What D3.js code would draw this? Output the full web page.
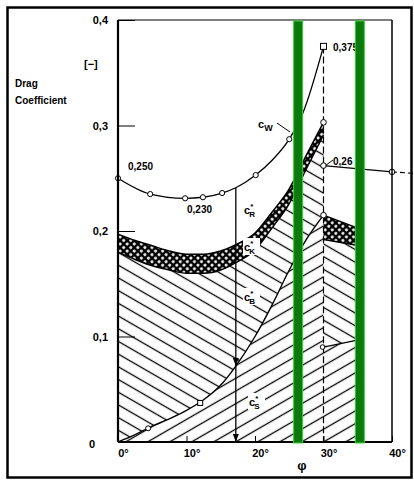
<!DOCTYPE html>
<html>
<head>
<meta charset="utf-8">
<script src="https://cdn.jsdelivr.net/npm/d3@7"></script>
<style>
  body { margin: 0; background: #fff; }
  svg { display: block; }
  text { font-family: "Liberation Sans", Arial, sans-serif; font-weight: bold; fill: #000; }
</style>
</head>
<body>
<div id="rootDiv"></div>
<script>
const width = 414
const height = 480

// left part of the chart, 0..30 deg
const phiL = [0, 2.5, 5, 7.5, 10, 12.5, 15, 17.2, 20, 22.5, 25, 27.5, 30]
const sStar = [0, 0.007, 0.015, 0.022, 0.030, 0.040, 0.054, 0.072, 0.100, 0.130, 0.163, 0.192, 0.215]
const kBot = [0.180, 0.173, 0.167, 0.163, 0.160, 0.160, 0.163, 0.170, 0.182, 0.203, 0.226, 0.259, 0.291]
const kTop = [0.197, 0.191, 0.186, 0.181, 0.178, 0.178, 0.181, 0.187, 0.198, 0.218, 0.240, 0.272, 0.303]

// total drag c_W
const phiW = [0, 4.7, 9.8, 12.4, 15.2, 17.2, 20.1, 22.5, 25, 27, 30]
const cW = [0.250, 0.235, 0.231, 0.232, 0.236, 0.241, 0.253, 0.267, 0.287, 0.312, 0.375]
const cWMarked = [0, 1, 2, 3, 4, 6, 8]

// right part, after the jump at 30 deg
const phiR = [30, 35.3]
const sR = [0.090, 0.097]
const kBotR = [0.192, 0.186]
const kTopR = [0.215, 0.202]
const phiW2 = [30, 40]
const cW2 = [0.262, 0.256]

// measured points on the 30 deg line
const jumpPts = [0.303, 0.262, 0.215]
const sMarkPhi = [4.4, 12]
const sMarkVal = [0.013, 0.037]

const yTicks = [0, 0.1, 0.2, 0.3, 0.4]
const xTicks = [0, 10, 20, 30, 40]
const greenBars = [26.3, 35.3]

const svg = d3.select("#rootDiv").append("svg")
    .attr("width", width)
    .attr("height", height)

const x = d3.scaleLinear().domain([0, 40]).range([118, 392])
const y = d3.scaleLinear().domain([0, 0.4]).range([442, 20])

const defs = svg.append("defs")

function hatch(id, angle, gap) {
    const p = defs.append("pattern")
        .attr("id", id)
        .attr("patternUnits", "userSpaceOnUse")
        .attr("width", 10)
        .attr("height", gap)
        .attr("patternTransform", `rotate(${angle})`)
    p.append("rect").attr("width", 10).attr("height", gap).attr("fill", "#fff")
    p.append("line")
        .attr("x1", 0).attr("x2", 10)
        .attr("y1", gap / 2).attr("y2", gap / 2)
        .attr("stroke", "#000")
        .attr("stroke-width", 1.3)
}
hatch("back", 30, 11)   // "\" for c_B*
hatch("fwd", -30, 11)   // "/" for c_S*

const cp = defs.append("pattern")
    .attr("id", "cross")
    .attr("patternUnits", "userSpaceOnUse")
    .attr("width", 5)
    .attr("height", 5)
    .attr("patternTransform", "rotate(45)")
cp.append("rect").attr("width", 5).attr("height", 5).attr("fill", "#000")
cp.append("circle").attr("cx", 2.5).attr("cy", 2.5).attr("r", 1.5).attr("fill", "#fff")

function band(phis, lo, hi) {
    return d3.area()
        .x((d, i) => x(phis[i]))
        .y0((d, i) => y(lo ? lo[i] : 0))
        .y1((d, i) => y(hi[i]))
        .curve(d3.curveMonotoneX)(phis)
}
function curveLine(phis, vals, curve) {
    return d3.line()
        .x((d, i) => x(phis[i]))
        .y((d, i) => y(vals[i]))
        .curve(curve || d3.curveMonotoneX)(phis)
}

const g = svg.append("g")

// hatched regions
g.append("path").attr("d", band(phiL, null, sStar)).attr("fill", "url(#fwd)")
g.append("path").attr("d", band(phiL, sStar, kBot)).attr("fill", "url(#back)")
g.append("path").attr("d", band(phiL, kBot, kTop)).attr("fill", "url(#cross)")
g.append("path").attr("d", band(phiR, null, sR)).attr("fill", "url(#fwd)")
g.append("path").attr("d", band(phiR, sR, kBotR)).attr("fill", "url(#back)")
g.append("path").attr("d", band(phiR, kBotR, kTopR)).attr("fill", "url(#cross)")

// axes
const yAxis = g.append("g")
    .attr("transform", `translate(${x(0)},0)`)
    .call(d3.axisLeft(y)
        .tickValues(yTicks)
        .tickSizeInner(-17)
        .tickSizeOuter(0)
        .tickPadding(10)
        .tickFormat(d => d === 0 ? "0" : d3.format(".1f")(d).replace(".", ",")))
yAxis.select(".domain").remove()
yAxis.selectAll("line").attr("stroke", "#000").attr("stroke-width", 1)
yAxis.selectAll("text").style("font-size", "11px").style("font-family", null)
yAxis.selectAll("text").filter(d => d === 0).attr("x", -23).attr("dy", "0.5em")

const xAxis = g.append("g")
    .attr("transform", `translate(0,${y(0)})`)
    .call(d3.axisBottom(x)
        .tickValues(xTicks)
        .tickSizeInner(-6)
        .tickSizeOuter(0)
        .tickPadding(7)
        .tickFormat(d => d + "°"))
xAxis.select(".domain").remove()
xAxis.selectAll("line").attr("stroke", "#000")
xAxis.selectAll("text").attr("dx", 5).style("font-size", "11px").style("font-family", null)

// boundary lines
const lines = g.append("g").attr("fill", "none").attr("stroke", "#000")
lines.append("path").attr("d", curveLine(phiL, sStar)).attr("stroke-width", 1.4)
lines.append("path").attr("d", curveLine(phiL, kBot)).attr("stroke-width", 1.5)
lines.append("path").attr("d", curveLine(phiL, kTop)).attr("stroke-width", 1.5)
lines.append("path").attr("d", curveLine(phiW, cW)).attr("stroke-width", 1.3)
lines.append("path").attr("d", curveLine(phiR, sR, d3.curveLinear)).attr("stroke-width", 1.2)
lines.append("path").attr("d", curveLine(phiR, kBotR, d3.curveLinear)).attr("stroke-width", 1.4)
lines.append("path").attr("d", curveLine(phiR, kTopR, d3.curveLinear)).attr("stroke-width", 1.4)
lines.append("path").attr("d", curveLine(phiW2, cW2, d3.curveLinear)).attr("stroke-width", 1.2)
lines.append("line")
    .attr("x1", x(40)).attr("x2", x(43.5))
    .attr("y1", y(cW2[1])).attr("y2", y(cW2[1] - 0.0015))
    .attr("stroke-dasharray", "5,3")
    .attr("stroke-width", 1.2)

// vertical line at 17.2 deg
lines.append("line")
    .attr("x1", x(17.2)).attr("x2", x(17.2))
    .attr("y1", y(cW[5])).attr("y2", y(0))
    .attr("stroke-width", 1.3)
// dashed jump line at 30 deg
lines.append("line")
    .attr("x1", x(30)).attr("x2", x(30))
    .attr("y1", y(cW[cW.length - 1])).attr("y2", y(0))
    .attr("stroke-width", 1.2)
    .attr("stroke-dasharray", "7,3")

// arrow heads on the 17.2 deg line
const arrowVals = [sStar[7], 0]
g.selectAll(".arrow")
    .data(arrowVals)
    .enter()
    .append("path")
    .attr("class", "arrow")
    .attr("d", d => `M${x(17.2) - 3},${y(d) - 8}L${x(17.2) + 3},${y(d) - 8}L${x(17.2)},${y(d)}Z`)
    .attr("fill", "#000")

// markers
const mk = g.append("g").attr("fill", "#fff").attr("stroke", "#000").attr("stroke-width", 1)
mk.selectAll(".cw")
    .data(cWMarked)
    .enter()
    .append("circle")
    .attr("cx", i => x(phiW[i]))
    .attr("cy", i => y(cW[i]))
    .attr("r", 2.6)
mk.selectAll(".jp")
    .data(jumpPts)
    .enter()
    .append("circle")
    .attr("cx", x(30))
    .attr("cy", d => y(d))
    .attr("r", 2.8)
mk.append("circle").attr("cx", x(phiW2[1])).attr("cy", y(cW2[1])).attr("r", 2.8)
mk.append("rect")
    .attr("x", x(30) - 3).attr("y", y(cW[cW.length - 1]) - 3)
    .attr("width", 6).attr("height", 6)
mk.append("circle").attr("cx", x(sMarkPhi[0])).attr("cy", y(sMarkVal[0])).attr("r", 2.5)
mk.append("rect")
    .attr("x", x(sMarkPhi[1]) - 2.5).attr("y", y(sMarkVal[1]) - 2.5)
    .attr("width", 5).attr("height", 5)
mk.append("circle").attr("cx", x(phiR[0]) - 1).attr("cy", y(sR[0])).attr("r", 2.3)

// value labels
function label(tx, ty, s, size) {
    return g.append("text").attr("x", tx).attr("y", ty).style("font-size", (size || 10) + "px").text(s)
}
label(128, 170, "0,250")
label(187, 213, "0,230")
label(333, 51, "0,375")
label(333, 165, "0,26")
g.append("line").attr("x1", x(30) + 2).attr("y1", y(0.262)).attr("x2", 333).attr("y2", 160)
    .attr("stroke", "#000").attr("stroke-width", 1)

// component labels
function comp(tx, ty, sub, star, bg) {
    if (bg) {
        g.append("rect").attr("x", tx - 1).attr("y", ty - 13).attr("width", 17).attr("height", 17).attr("fill", "#fff")
    }
    const t = g.append("text").attr("x", tx).attr("y", ty).style("font-size", "11px")
    t.append("tspan").text("c")
    if (star) {
        t.append("tspan").attr("dy", -5).style("font-size", "8px").text("*")
        t.append("tspan").attr("dx", -4).attr("dy", 8).style("font-size", "8px").text(sub)
    } else {
        t.append("tspan").attr("dy", 3).style("font-size", "9px").text(sub)
    }
}
comp(258, 128, "W", false, false)
g.append("line").attr("x1", 277).attr("y1", 123).attr("x2", 290).attr("y2", 132)
    .attr("stroke", "#000").attr("stroke-width", 1)
comp(244, 214, "R", true, false)
comp(244, 251, "K", true, true)
comp(244, 301, "B", true, true)
comp(249, 406, "S", true, true)

// plot frame
const frame = svg.append("g").attr("stroke", "#000").attr("fill", "none")
frame.append("line").attr("x1", x(0)).attr("x2", x(0)).attr("y1", y(0.4)).attr("y2", y(0)).attr("stroke-width", 2.2)
frame.append("line").attr("x1", x(0)).attr("x2", x(40)).attr("y1", y(0)).attr("y2", y(0)).attr("stroke-width", 2.2)
frame.append("line").attr("x1", x(0)).attr("x2", x(40)).attr("y1", y(0.4)).attr("y2", y(0.4)).attr("stroke-width", 1.2)
frame.append("line").attr("x1", x(40)).attr("x2", x(40)).attr("y1", y(0.4)).attr("y2", y(0)).attr("stroke-width", 1.5)

// axis titles
svg.append("text").attr("x", 15).attr("y", 87).style("font-size", "10px").text("Drag")
svg.append("text").attr("x", 15).attr("y", 104).style("font-size", "10px").text("Coefficient")
svg.append("text").attr("x", 84).attr("y", 68).style("font-size", "11px").text("[\u2212]")
svg.append("text").attr("x", 302).attr("y", 470).attr("text-anchor", "middle").style("font-size", "13px").text("\u03c6")

// green marker bars
svg.selectAll(".bar")
    .data(greenBars)
    .enter()
    .append("rect")
    .attr("class", "bar")
    .attr("x", d => x(d) - 4.5)
    .attr("y", y(0.4) + 1)
    .attr("width", 9)
    .attr("height", y(0) - y(0.4))
    .attr("fill", "#0a7a0a")
    .attr("stroke", "#35d035")
    .attr("stroke-width", 1)

// outer border
svg.append("rect")
    .attr("x", 7.5).attr("y", 7.5)
    .attr("width", 404).attr("height", 470)
    .attr("fill", "none")
    .attr("stroke", "#000")
    .attr("stroke-width", 2.5)
</script>
</body>
</html>
